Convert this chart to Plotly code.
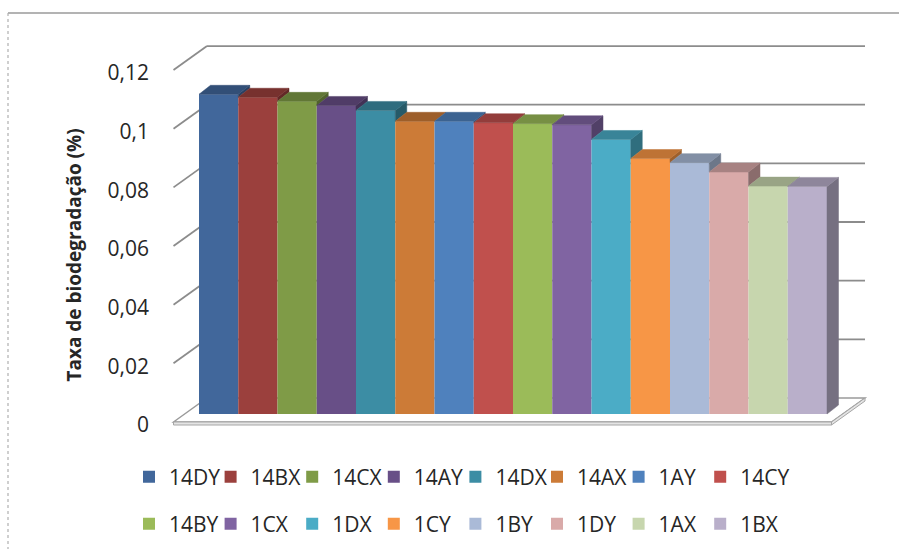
import plotly.graph_objects as go

# ---- data -------------------------------------------------------------
categories = ["14DY", "14BX", "14CX", "14AY", "14DX", "14AX", "1AY", "14CY",
              "14BY", "1CX", "1DX", "1CY", "1BY", "1DY", "1AX", "1BX"]
rates = [0.1090, 0.1080, 0.1066, 0.1052, 0.1035, 0.0998, 0.0998, 0.0993,
         0.0990, 0.0986, 0.0936, 0.0871, 0.0857, 0.0825, 0.0777, 0.0776]
colors = ["#41679B", "#9B403D", "#7F9B47", "#684F87", "#3C8DA4", "#CC7B37",
          "#4F81BD", "#C0504D", "#9BBB59", "#8064A2", "#4BACC6", "#F79646",
          "#AABAD7", "#D9AAA9", "#C7D6AE", "#B9AFCA"]
tick_values = [0, 0.02, 0.04, 0.06, 0.08, 0.1, 0.12]
tick_labels = ["0", "0,02", "0,04", "0,06", "0,08", "0,1", "0,12"]
y_title = "Taxa de biodegradação (%)"

# ---- layout geometry (pixels) ----------------------------------------
W, H = 899, 549
PAPER_L = 129         # left edge of the paper area (legend anchor)
PLOT_L, PLOT_R, PLOT_T, PLOT_B = 150, 899, 0, 510
PX_CAT = 39.25        # width of one column
PX_UNIT = 2933.0      # pixels per unit of rate
X0_PX = 199           # left edge of first column
BASE_PX = 414         # baseline of the column faces
PER_ROW = 8           # legend entries per row
ENTRY_W = 36.6        # legend entry text slot

x_range = [(PLOT_L - X0_PX) / PX_CAT - 0.5, (PLOT_R - X0_PX) / PX_CAT - 0.5]
y_range = [(BASE_PX - PLOT_B) / PX_UNIT, (BASE_PX - PLOT_T) / PX_UNIT]


def dx(px):
    return px / PX_CAT


def dy(px):
    return px / PX_UNIT


def paper_x(px):
    return (px - PAPER_L) / (PLOT_R - PAPER_L)


def paper_y(py):
    return (H - py) / H


# depth offsets of the pseudo-3D box
TOP_DX, TOP_DY = dx(11.5), dy(9)
WALL_GAP = dx(15)
FRONT_DX, FRONT_DY = dx(-10.5), dy(-8)
BACK_DX, BACK_DY = dx(23), dy(16)
SLAB = dy(3)

n = len(categories)
x_left = -0.5 - WALL_GAP
x_right = n - 0.5 + WALL_GAP


def shade(hex_color, k):
    h = hex_color.lstrip("#")
    r, g, b = (int(h[i:i + 2], 16) for i in (0, 2, 4))
    return "#%02x%02x%02x" % (int(r * k), int(g * k), int(b * k))


fig = go.Figure()

# front faces of the columns
for i, (cat, val, col) in enumerate(zip(categories, rates, colors)):
    last_in_row = (i % PER_ROW) == PER_ROW - 1
    fig.add_trace(go.Bar(
        x=[i], y=[val], width=1, name=cat,
        marker=dict(color=col, line=dict(width=0)),
        legend="legend" if i < PER_ROW else "legend2",
        legendwidth=70 if last_in_row else None,
        hovertemplate=cat + ": %{y}<extra></extra>",
    ))

# side and top faces of the columns
for i, (val, col) in enumerate(zip(rates, colors)):
    lo = rates[i + 1] if i + 1 < n else 0.0
    r = i + 0.5
    if val > lo:
        fig.add_trace(go.Scatter(
            x=[r, r, r + TOP_DX, r + TOP_DX, r],
            y=[lo, val, val + TOP_DY, lo + TOP_DY, lo],
            fill="toself", mode="lines",
            fillcolor=shade(col, 0.64),
            line=dict(color=shade(col, 0.64), width=0.5),
            showlegend=False, hoverinfo="skip",
        ))
    l = i - 0.5
    fig.add_trace(go.Scatter(
        x=[l, r, r + TOP_DX, l + TOP_DX, l],
        y=[val, val, val + TOP_DY, val + TOP_DY, val],
        fill="toself", mode="lines",
        fillcolor=shade(col, 0.77),
        line=dict(color=shade(col, 0.77), width=0.5),
        showlegend=False, hoverinfo="skip",
    ))

# walls, gridlines and floor
GRID = "#8c8c8c"
shapes = []


def path(pts):
    return "M " + " L ".join("%f,%f" % p for p in pts) + " Z"


fl = (x_left + FRONT_DX, FRONT_DY)
fr = (x_right + FRONT_DX, FRONT_DY)
br = (x_right + BACK_DX, BACK_DY)
bl = (x_left + BACK_DX, BACK_DY)
shapes.append(dict(type="path", xref="x", yref="y", layer="below",
                   path=path([fl, fr, br, bl]), fillcolor="white",
                   line=dict(color="#9a9a9a", width=1.4)))
shapes.append(dict(type="path", xref="x", yref="y", layer="below",
                   path=path([fl, fr, (fr[0], fr[1] - SLAB), (fl[0], fl[1] - SLAB)]),
                   fillcolor="#e4e4e4", line=dict(color="#a6a6a6", width=1)))
shapes.append(dict(type="path", xref="x", yref="y", layer="below",
                   path=path([fr, br, (br[0], br[1] - SLAB), (fr[0], fr[1] - SLAB)]),
                   fillcolor="#e4e4e4", line=dict(color="#a6a6a6", width=1)))

for g in tick_values[1:]:
    shapes.append(dict(type="line", xref="x", yref="y", layer="below",
                       x0=x_left + FRONT_DX, y0=g + FRONT_DY,
                       x1=x_left + BACK_DX, y1=g + BACK_DY,
                       line=dict(color=GRID, width=1.8)))
    shapes.append(dict(type="line", xref="x", yref="y", layer="below",
                       x0=x_left + BACK_DX, y0=g + BACK_DY,
                       x1=x_right + BACK_DX, y1=g + BACK_DY,
                       line=dict(color=GRID, width=1.8)))

# chart border
shapes.append(dict(type="line", xref="paper", yref="paper",
                   x0=paper_x(8), y0=paper_y(13), x1=paper_x(905), y1=paper_y(13),
                   line=dict(color="#9a9a9a", width=1.5)))
shapes.append(dict(type="line", xref="paper", yref="paper",
                   x0=paper_x(8), y0=paper_y(13), x1=paper_x(8), y1=paper_y(560),
                   line=dict(color="#b0b0b0", width=1.2, dash="dot")))

FONT = "Open Sans, DejaVu Sans, sans-serif"
TEXT = "#262626"
legend_common = dict(
    orientation="h", xanchor="left", yanchor="middle",
    x=0, bgcolor="rgba(0,0,0,0)",
    entrywidth=ENTRY_W, entrywidthmode="pixels", itemwidth=30,
    font=dict(family=FONT, size=21, color=TEXT),
    traceorder="normal",
)

fig.update_layout(
    width=W, height=H,
    margin=dict(l=PAPER_L, r=W - PLOT_R, t=PLOT_T, b=0, autoexpand=False),
    paper_bgcolor="white", plot_bgcolor="white",
    barmode="overlay",
    shapes=shapes,
    xaxis=dict(range=x_range, visible=False, fixedrange=True,
               domain=[paper_x(PLOT_L), 1]),
    yaxis=dict(
        range=y_range, domain=[(H - PLOT_B) / H, 1],
        tickmode="array", tickvals=tick_values, ticktext=tick_labels,
        ticks="", showline=False, showgrid=False, zeroline=False,
        ticklabelshift=11, ticklabelstandoff=0,
        tickfont=dict(family=FONT, size=21, color=TEXT),
        title=dict(text=y_title, standoff=20,
                   font=dict(family=FONT, size=19, color=TEXT, weight="bold")),
        automargin=False, fixedrange=True,
    ),
    legend=dict(legend_common, y=paper_y(477)),
    legend2=dict(legend_common, y=paper_y(524)),
    showlegend=True,
)

fig.write_html("out.html")
